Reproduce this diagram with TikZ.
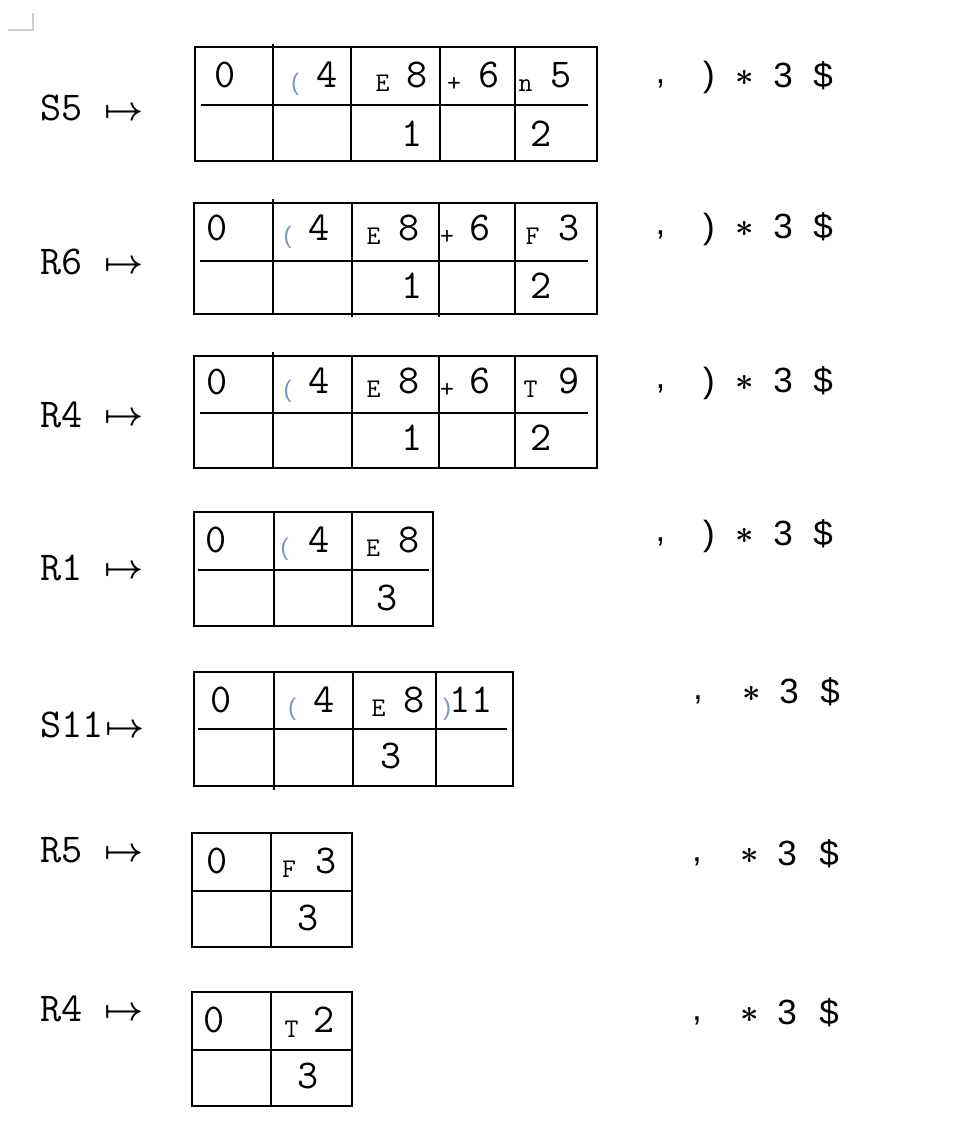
\documentclass[tikz,border=0pt]{standalone}
\usepackage{graphicx}
\usepackage{fontspec}
\newfontfamily\rtfont{Liberation Sans}
\definecolor{parcol}{RGB}{120,150,195}
\definecolor{cornercol}{RGB}{205,205,205}
\newcommand\tx[5]{\node[#1] (#2) at (#3,#4) {#5};}
\newcommand\bigmapsto{\scalebox{3.4}{\boldmath$\mapsto$}}
\newcommand\bigast{\scalebox{3.2}{\boldmath$\ast$}}
\tikzset{
  tbl/.style={line width=1.7pt, black},
  big/.style={anchor=base, inner sep=0pt, font={\ttfamily\fontsize{41}{48}\selectfont}},
  lbl/.style={anchor=base west, inner sep=0pt, font={\ttfamily\fontsize{41}{48}\selectfont}},
  sml/.style={anchor=base, inner sep=0pt, font={\ttfamily\fontsize{27}{30}\selectfont}},
  par/.style={anchor=base, inner sep=0pt, text=parcol, font={\rtfont\fontsize{24}{28}\selectfont}},
  arr/.style={anchor=base, inner sep=0pt, font={\fontsize{10}{12}\selectfont}},
  rt/.style={anchor=base, inner sep=0pt, font={\rtfont\fontsize{35}{40}\selectfont}},
  ast/.style={anchor=base, inner sep=0pt, font={\fontsize{10}{12}\selectfont}},
}
\begin{document}
\begin{tikzpicture}[x=1pt,y=-1pt]
\useasboundingbox[fill=white] (0,0) rectangle (966,1148);
% corner mark
\draw[cornercol, line width=1.2pt] (8,30) -- (33,30) -- (33,13);

% ---------- Row 1 : S5 ----------
\draw[tbl] (195,47) rectangle (597,161);
\draw[tbl] (273,44) -- (273,161) (351,47) -- (351,161) (440,47) -- (440,161) (515,47) -- (515,161);
\draw[tbl] (201,105) -- (588,105);
\tx{lbl}{l1}{40}{120}{S5}
\tx{arr}{a1}{124}{120.5}{\bigmapsto}
\tx{big}{r1a}{225.5}{87}{0}
\tx{par}{r1b}{295}{90}{(}
\tx{big}{r1c}{327.5}{88}{4}
\tx{sml}{r1d}{382.5}{92}{E}
\tx{big}{r1e}{417.5}{87}{8}
\tx{sml}{r1f}{454}{92}{+}
\tx{big}{r1g}{489}{87}{6}
\tx{sml}{r1h}{525.5}{92}{n}
\tx{big}{r1i}{561.5}{87}{5}
\tx{big}{r1j}{412.5}{146}{1}
\tx{big}{r1k}{541.5}{146}{2}
\tx{rt}{q1a}{660.5}{83}{,}
\tx{rt}{q1b}{709}{86}{)}
\tx{ast}{q1c}{745}{85}{\bigast}
\tx{rt}{q1d}{783}{87}{3}
\tx{rt}{q1e}{823}{87}{\$}

% ---------- Row 2 : R6 ----------
\draw[tbl] (194,203) rectangle (597,314);
\draw[tbl] (273,199) -- (273,314) (352,203) -- (352,317) (439,203) -- (439,317) (515,203) -- (515,314);
\draw[tbl] (200,261) -- (588,261);
\tx{lbl}{l2}{40}{274}{R6}
\tx{arr}{a2}{124}{273.5}{\bigmapsto}
\tx{big}{r2a}{217.5}{240}{0}
\tx{par}{r2b}{287.5}{243}{(}
\tx{big}{r2c}{319}{240}{4}
\tx{sml}{r2d}{373.5}{244}{E}
\tx{big}{r2e}{409}{240}{8}
\tx{sml}{r2f}{447}{244}{+}
\tx{big}{r2g}{480}{240}{6}
\tx{sml}{r2h}{532.5}{244}{F}
\tx{big}{r2i}{569}{240}{3}
\tx{big}{r2j}{412.5}{298}{1}
\tx{big}{r2k}{541.5}{298}{2}
\tx{rt}{q2a}{660.5}{234}{,}
\tx{rt}{q2b}{709}{238}{)}
\tx{ast}{q2c}{745}{236}{\bigast}
\tx{rt}{q2d}{783}{238}{3}
\tx{rt}{q2e}{823}{238}{\$}

% ---------- Row 3 : R4 ----------
\draw[tbl] (194,356) rectangle (597,468);
\draw[tbl] (273,352) -- (273,468) (352,356) -- (352,468) (439,356) -- (439,468) (515,356) -- (515,468);
\draw[tbl] (200,413) -- (588,413);
\tx{lbl}{l3}{40}{427}{R4}
\tx{arr}{a3}{124}{425.5}{\bigmapsto}
\tx{big}{r3a}{217.5}{394}{0}
\tx{par}{r3b}{287.5}{397}{(}
\tx{big}{r3c}{319}{393}{4}
\tx{sml}{r3d}{373.5}{397}{E}
\tx{big}{r3e}{409}{393}{8}
\tx{sml}{r3f}{447}{397}{+}
\tx{big}{r3g}{480}{393}{6}
\tx{sml}{r3h}{530.5}{397}{T}
\tx{big}{r3i}{569}{393}{9}
\tx{big}{r3j}{412.5}{450}{1}
\tx{big}{r3k}{541.5}{450}{2}
\tx{rt}{q3a}{660.5}{388}{,}
\tx{rt}{q3b}{709}{392}{)}
\tx{ast}{q3c}{745}{390}{\bigast}
\tx{rt}{q3d}{783}{392}{3}
\tx{rt}{q3e}{823}{392}{\$}

% ---------- Row 4 : R1 ----------
\draw[tbl] (194,512) rectangle (433,626);
\draw[tbl] (274,512) -- (274,626) (352,512) -- (352,626);
\draw[tbl] (198,570) -- (429,570);
\tx{lbl}{l4}{40}{580}{R1}
\tx{arr}{a4}{124}{578.5}{\bigmapsto}
\tx{big}{r4a}{216.5}{552}{0}
\tx{par}{r4b}{284.5}{555}{(}
\tx{big}{r4c}{319}{552}{4}
\tx{sml}{r4d}{373}{556}{E}
\tx{big}{r4e}{409}{552}{8}
\tx{big}{r4f}{387.5}{610}{3}
\tx{rt}{q4a}{660.5}{541}{,}
\tx{rt}{q4b}{709}{545}{)}
\tx{ast}{q4c}{745}{543}{\bigast}
\tx{rt}{q4d}{783}{545}{3}
\tx{rt}{q4e}{823}{545}{\$}

% ---------- Row 5 : S11 ----------
\draw[tbl] (194,672) rectangle (513,786);
\draw[tbl] (274,672) -- (274,790) (353,672) -- (353,786) (436,672) -- (436,786);
\draw[tbl] (198,729) -- (507,729);
\tx{lbl}{l5}{40}{737}{S11}
\tx{arr}{a5}{125}{737.5}{\bigmapsto}
\tx{big}{r5a}{221.5}{712}{0}
\tx{par}{r5b}{292}{715}{(}
\tx{big}{r5c}{324}{712}{4}
\tx{sml}{r5d}{378.5}{716}{E}
\tx{big}{r5e}{414}{712}{8}
\tx{par}{r5f}{447}{715}{)}
\tx{big}{r5g}{471}{712}{11}
\tx{big}{r5h}{391}{768}{3}
\tx{rt}{q5a}{698}{699}{,}
\tx{ast}{q5c}{752}{701}{\bigast}
\tx{rt}{q5d}{789}{703}{3}
\tx{rt}{q5e}{830}{703}{\$}

% ---------- Row 6 : R5 ----------
\draw[tbl] (192,833) rectangle (352,947);
\draw[tbl] (271,833) -- (271,947);
\draw[tbl] (192,891) -- (352,891);
\tx{lbl}{l6}{40}{862}{R5}
\tx{arr}{a6}{124}{861.5}{\bigmapsto}
\tx{big}{r6a}{217}{873}{0}
\tx{sml}{r6b}{289}{877}{F}
\tx{big}{r6c}{326}{873}{3}
\tx{big}{r6d}{308}{930}{3}
\tx{rt}{q6a}{697}{861}{,}
\tx{ast}{q6c}{750}{863}{\bigast}
\tx{rt}{q6d}{787}{865}{3}
\tx{rt}{q6e}{829}{865}{\$}

% ---------- Row 7 : R4 ----------
\draw[tbl] (192,992) rectangle (352,1106);
\draw[tbl] (271,992) -- (271,1106);
\draw[tbl] (192,1050) -- (352,1050);
\tx{lbl}{l7}{40}{1021}{R4}
\tx{arr}{a7}{124}{1020.5}{\bigmapsto}
\tx{big}{r7a}{214.5}{1032}{0}
\tx{sml}{r7b}{291.5}{1037}{T}
\tx{big}{r7c}{324}{1032}{2}
\tx{big}{r7d}{308}{1088}{3}
\tx{rt}{q7a}{697}{1020}{,}
\tx{ast}{q7c}{750}{1022}{\bigast}
\tx{rt}{q7d}{787}{1024}{3}
\tx{rt}{q7e}{829}{1024}{\$}
\end{tikzpicture}
\end{document}
